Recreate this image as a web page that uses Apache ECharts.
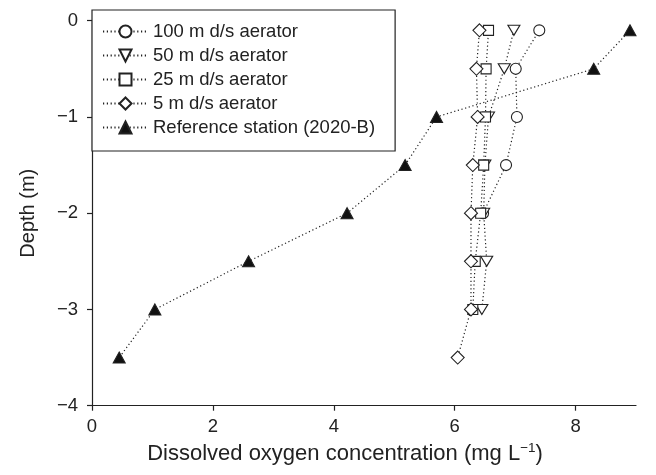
<!DOCTYPE html>
<html>
<head>
<meta charset="utf-8">
<script src="https://cdn.jsdelivr.net/npm/echarts@6/dist/echarts.min.js"></script>
<style>
  html, body { margin: 0; padding: 0; background: #fff; }
  #chart { width: 656px; height: 475px; }
</style>
</head>
<body>
<div id="chart"></div>
<script>
// Dissolved oxygen profiles by depth (mg/L) for each aerator distance
const depth100 = [-0.1, -0.5, -1, -1.5, -2];
const do100    = [7.40, 7.01, 7.03, 6.85, 6.47];

const depth50  = [-0.1, -0.5, -1, -1.5, -2, -2.5, -3];
const do50     = [6.98, 6.82, 6.56, 6.50, 6.48, 6.53, 6.45];

const depth25  = [-0.1, -0.5, -1, -1.5, -2, -2.5, -3];
const do25     = [6.56, 6.52, 6.51, 6.48, 6.43, 6.34, 6.30];

const depth5   = [-0.1, -0.5, -1, -1.5, -2, -2.5, -3, -3.5];
const do5      = [6.41, 6.36, 6.38, 6.30, 6.27, 6.27, 6.27, 6.05];

const depthRef = [-0.1, -0.5, -1, -1.5, -2, -2.5, -3, -3.5];
const doRef    = [8.90, 8.30, 5.70, 5.18, 4.22, 2.59, 1.04, 0.45];

const seriesNames = [
  '100 m d/s aerator',
  '50 m d/s aerator',
  '25 m d/s aerator',
  '5 m d/s aerator',
  'Reference station (2020-B)'
];

const xTicks = [0, 2, 4, 6, 8];
const yTicks = [0, -1, -2, -3, -4];

const FONT = '"Liberation Sans", Arial, Helvetica, sans-serif';
const INK = '#222';

function pairs(xs, ys) {
  return xs.map((x, i) => [x, ys[i]]);
}

const dotted = { color: INK, width: 1.2, type: [1.2, 2.6] };

function profile(name, xs, ys, symbol, size, fill, rotate) {
  return {
    name: name,
    type: 'line',
    data: pairs(xs, ys),
    symbol: symbol,
    symbolSize: size,
    symbolRotate: rotate || 0,
    showAllSymbol: true,
    lineStyle: dotted,
    itemStyle: { color: fill, borderColor: INK, borderWidth: 1.1 },
    emphasis: { disabled: true },
    animation: false
  };
}

const chart = echarts.init(document.getElementById('chart'), null, { renderer: 'canvas' });

chart.setOption({
  backgroundColor: '#fff',
  animation: false,
  textStyle: { fontFamily: FONT, color: INK },
  grid: { left: 92, right: 20, top: 20.7, bottom: 69.3, containLabel: false },
  legend: {
    left: 92,
    top: 10,
    orient: 'vertical',
    padding: [12, 20, 14, 10],
    itemWidth: 45,
    itemHeight: 15,
    itemGap: 5,
    borderColor: INK,
    borderWidth: 1.2,
    borderRadius: 0,
    backgroundColor: '#fff',
    selectedMode: false,
    textStyle: { fontFamily: FONT, fontSize: 18.5, color: INK, lineHeight: 19 },
    data: seriesNames
  },
  xAxis: {
    type: 'value',
    min: 0,
    max: 9,
    interval: 2,
    splitLine: { show: false },
    axisLine: { show: true, onZero: false, lineStyle: { color: INK, width: 1.2 } },
    axisTick: { show: true, inside: false, length: 5, customValues: xTicks, lineStyle: { color: INK, width: 1.2 } },
    axisLabel: { customValues: xTicks, fontFamily: FONT, fontSize: 18.5, color: INK, margin: 12 },
    name: '{t|Dissolved oxygen concentration (mg L}{s|\u22121}{t|)}',
    nameLocation: 'middle',
    nameGap: 36,
    nameTextStyle: {
      padding: [0, 38, 0, 0],
      rich: {
        t: { fontFamily: FONT, fontSize: 22, color: INK },
        s: { fontFamily: FONT, fontSize: 13.5, color: INK, verticalAlign: 'top', padding: [0, 0, 10, 0] }
      }
    }
  },
  yAxis: {
    type: 'value',
    min: -4,
    max: 0,
    interval: 1,
    splitLine: { show: false },
    axisLine: { show: true, onZero: false, lineStyle: { color: INK, width: 1.2 } },
    axisTick: { show: true, inside: false, length: 5, customValues: yTicks, lineStyle: { color: INK, width: 1.2 } },
    axisLabel: {
      customValues: yTicks,
      fontFamily: FONT, fontSize: 18.5, color: INK, margin: 14,
      formatter: v => (v < 0 ? '\u2212' + Math.abs(v) : String(v))
    },
    name: 'Depth (m)',
    nameLocation: 'middle',
    nameGap: 54,
    nameTextStyle: { fontFamily: FONT, fontSize: 20, color: INK }
  },
  series: [
    profile(seriesNames[0], do100, depth100, 'circle', 11, '#fff'),
    profile(seriesNames[1], do50, depth50, 'triangle', [12, 10], '#fff', 180),
    profile(seriesNames[2], do25, depth25, 'rect', 10, '#fff'),
    profile(seriesNames[3], do5, depth5, 'diamond', [13, 13], '#fff'),
    profile(seriesNames[4], doRef, depthRef, 'triangle', [12, 11], '#111')
  ]
});
</script>
</body>
</html>
